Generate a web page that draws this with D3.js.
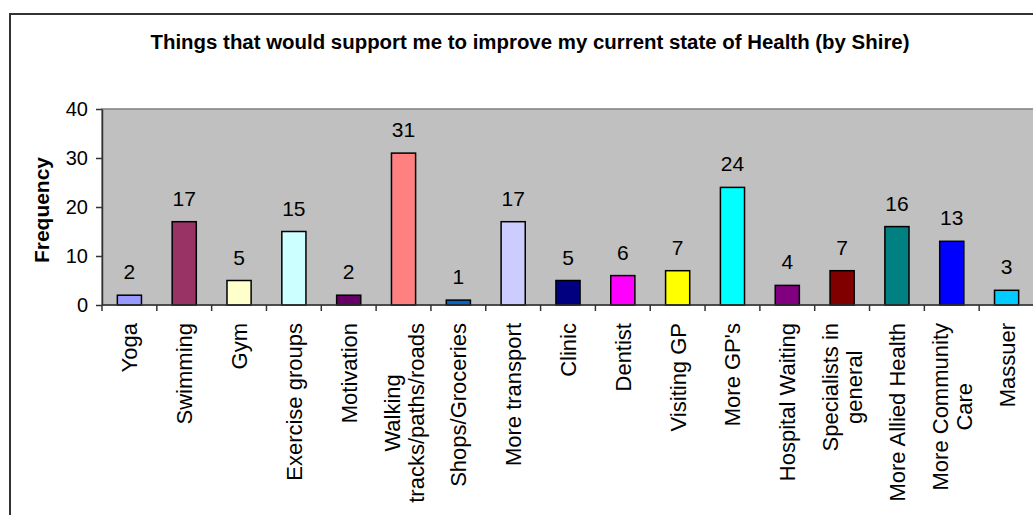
<!DOCTYPE html>
<html>
<head>
<meta charset="utf-8">
<script src="https://cdn.jsdelivr.net/npm/d3@7"></script>
<style>
  html, body { margin: 0; padding: 0; background: #fff; }
  svg { display: block; font-family: "Liberation Sans", Arial, sans-serif; }
</style>
</head>
<body>
<svg id="chart" width="1033" height="515"></svg>
<script>
// Survey responses: things that would support improving current health (by Shire)
const categories = [
  "Yoga", "Swimming", "Gym", "Exercise groups", "Motivation",
  "Walking\ntracks/paths/roads", "Shops/Groceries", "More transport",
  "Clinic", "Dentist", "Visiting GP", "More GP's", "Hospital Waiting",
  "Specialists in\ngeneral", "More Allied Health", "More Community\nCare", "Massuer"
];
const frequency = [2, 17, 5, 15, 2, 31, 1, 17, 5, 6, 7, 24, 4, 7, 16, 13, 3];
const barColors = [
  "#9999FF", "#993366", "#FFFFCC", "#CCFFFF", "#660066",
  "#FF8080", "#0066CC", "#CCCCFF", "#000080", "#FF00FF",
  "#FFFF00", "#00FFFF", "#800080", "#800000", "#008080",
  "#0000FF", "#00CCFF"
];
const yTicks = [0, 10, 20, 30, 40];
const titleText = "Things that would support me to improve my current state of Health (by Shire)";
const yTitle = "Frequency";

const svg = d3.select("#chart");

// chart frame
svg.append("rect")
  .attr("x", 10).attr("y", 14)
  .attr("width", 1200).attr("height", 700)
  .attr("fill", "#fff").attr("stroke", "#333").attr("stroke-width", 2);

const plot = { left: 102, top: 109, right: 1034, bottom: 305 };

const x = d3.scaleBand()
  .domain(categories)
  .range([plot.left, plot.right])
  .paddingInner(0.56)
  .paddingOuter(0.28);

const y = d3.scaleLinear()
  .domain([0, 40])
  .range([plot.bottom, plot.top]);

// plot background
svg.append("rect")
  .attr("x", plot.left).attr("y", plot.top)
  .attr("width", plot.right - plot.left).attr("height", plot.bottom - plot.top)
  .attr("fill", "#C0C0C0").attr("stroke", "#808080").attr("stroke-width", 1.5);

// title
svg.append("text")
  .attr("x", 530).attr("y", 49)
  .attr("text-anchor", "middle")
  .attr("font-size", 20).attr("font-weight", "bold")
  .attr("textLength", 759).attr("lengthAdjust", "spacingAndGlyphs")
  .attr("fill", "#000")
  .text(titleText);

// y axis
const yAxis = svg.append("g")
  .attr("transform", `translate(${plot.left},0)`)
  .call(d3.axisLeft(y).tickValues(yTicks).tickSize(6).tickSizeOuter(0).tickPadding(8));
yAxis.select(".domain").attr("stroke", "#333").attr("stroke-width", 1.5);
yAxis.selectAll(".tick line").attr("stroke", "#333").attr("stroke-width", 1.5);
yAxis.selectAll(".tick text")
  .attr("font-size", 20).attr("fill", "#000")
  .attr("font-family", "'Liberation Sans', Arial, sans-serif");

svg.append("text")
  .attr("transform", `translate(49,210) rotate(-90)`)
  .attr("text-anchor", "middle")
  .attr("font-size", 20).attr("font-weight", "bold")
  .attr("textLength", 106).attr("lengthAdjust", "spacingAndGlyphs")
  .text(yTitle);

// bars
svg.append("g").selectAll("rect")
  .data(categories)
  .join("rect")
  .attr("x", d => x(d))
  .attr("y", (d, i) => y(frequency[i]))
  .attr("width", x.bandwidth())
  .attr("height", (d, i) => y(0) - y(frequency[i]))
  .attr("fill", (d, i) => barColors[i])
  .attr("stroke", "#000").attr("stroke-width", 1.5);

// value labels
svg.append("g").selectAll("text")
  .data(categories)
  .join("text")
  .attr("x", d => x(d) + x.bandwidth() / 2)
  .attr("y", (d, i) => y(frequency[i]) - 16)
  .attr("text-anchor", "middle")
  .attr("font-size", 21).attr("fill", "#000")
  .text((d, i) => frequency[i]);

// x axis line and category boundary ticks
const step = x.step();
const edge = d => x(d) - (step - x.bandwidth()) / 2;
svg.append("line")
  .attr("x1", plot.left).attr("x2", plot.right)
  .attr("y1", plot.bottom).attr("y2", plot.bottom)
  .attr("stroke", "#333").attr("stroke-width", 1.5);
svg.append("g").selectAll("line")
  .data(categories)
  .join("line")
  .attr("x1", d => edge(d)).attr("x2", d => edge(d))
  .attr("y1", plot.bottom).attr("y2", plot.bottom + 6)
  .attr("stroke", "#333").attr("stroke-width", 1.5);

// rotated category labels, lines centred within each label block
const labelTop = 323;
const lineGap = 24;
const labels = svg.append("g").selectAll("g")
  .data(categories)
  .join("g")
  .attr("transform", d => `translate(${x(d) + x.bandwidth() / 2},${labelTop}) rotate(-90)`);

labels.each(function (d) {
  const g = d3.select(this);
  const lines = d.split("\n");
  const texts = lines.map((line, k) => g.append("text")
    .attr("font-size", 22).attr("fill", "#000")
    .attr("text-anchor", "middle")
    .attr("y", 8 + (k - (lines.length - 1) / 2) * lineGap)
    .text(line));
  const w = d3.max(texts, t => t.node().getComputedTextLength());
  texts.forEach(t => t.attr("x", -w / 2));
});
</script>
</body>
</html>
